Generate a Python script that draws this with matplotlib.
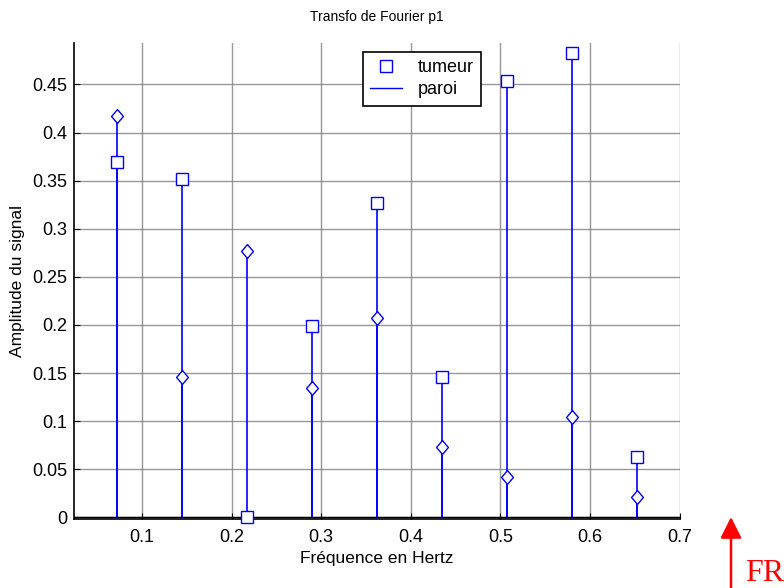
import matplotlib
matplotlib.use("Agg")
import matplotlib.pyplot as plt
from matplotlib.lines import Line2D

# frequences (Hz) et amplitudes
freqs = [0.0725, 0.145, 0.2175, 0.29, 0.3625, 0.435, 0.5075, 0.58, 0.6525]
tumeur = [0.369, 0.352, 0.0, 0.199, 0.327, 0.146, 0.454, 0.483, 0.063]
paroi = [0.417, 0.146, 0.277, 0.134, 0.2075, 0.073, 0.0425, 0.104, 0.021]

xticks = [0.1, 0.2, 0.3, 0.4, 0.5, 0.6, 0.7]
yticks = [0, 0.05, 0.1, 0.15, 0.2, 0.25, 0.3, 0.35, 0.4, 0.45]

# losange un peu plus haut que large (style matlab)
diamond = [(0, 1), (0.85, 0), (0, -1), (-0.85, 0), (0, 1)]


def main():
    plt.rcParams["font.family"] = ["Liberation Sans", "DejaVu Sans"]

    fig = plt.figure(figsize=(7.84, 5.88), dpi=100)
    ax = fig.add_axes([0.0948, 0.1173, 0.772, 0.81])

    blue = (0, 0, 1)
    # tiges
    ax.vlines(freqs, 0, tumeur, color=blue, lw=1.2, zorder=3)
    ax.vlines(freqs, 0, paroi, color=blue, lw=1.2, zorder=3)
    ax.plot(freqs, tumeur, ls="none", marker="s", ms=8.5, mfc="white",
            mec=blue, mew=1.0, zorder=4, clip_on=False)
    ax.plot(freqs, paroi, ls="none", marker=diamond, ms=10, mfc="white",
            mec=blue, mew=1.0, zorder=4)
    ax.axhline(0, color="black", lw=1.0, zorder=2)

    ax.set_xlim(0.0244, 0.7)
    ax.set_ylim(-0.0017, 0.4934)
    ax.set_xticks(xticks)
    ax.set_xticklabels([f"{t:g}" for t in xticks])
    ax.set_yticks(yticks)
    ax.set_yticklabels([f"{t:g}" for t in yticks])

    ax.grid(True, color="#7f7f7f", lw=1.0, alpha=0.8)
    ax.set_axisbelow(True)
    for s in ["top", "right"]:
        ax.spines[s].set_visible(False)
    for s in ["left", "bottom"]:
        ax.spines[s].set_linewidth(1.2)
    ax.tick_params(direction="in", length=4, labelsize=13)
    ax.tick_params(axis="x", pad=7)
    ax.tick_params(axis="y", pad=5)

    ax.set_title("Transfo de Fourier p1", fontsize=10, pad=16)
    ax.set_xlabel("Fréquence en Hertz", fontsize=12.5, labelpad=4)
    ax.set_ylabel("Amplitude du signal", fontsize=12.5, labelpad=5)

    handles = [
        Line2D([], [], ls="none", marker="s", ms=8.5, mfc="white", mec=blue),
        Line2D([], [], color=blue, lw=1.0),
    ]
    leg = ax.legend(handles, ["tumeur", "paroi"], loc="upper left",
                    bbox_to_anchor=(0.477, 0.981), fontsize=13,
                    fancybox=False, framealpha=1, edgecolor="black",
                    borderpad=0.4, labelspacing=0.3, handlelength=1.75,
                    handletextpad=0.9, borderaxespad=0)
    leg.get_frame().set_linewidth(1.2)

    # fleche rouge + FR
    ax.annotate("", xy=(731, 71), xytext=(731, -2), xycoords="figure pixels",
                textcoords="figure pixels",
                arrowprops=dict(arrowstyle="-|>,head_width=0.4,head_length=0.8",
                                color="red", lw=1.8, mutation_scale=16,
                                shrinkA=0, shrinkB=0),
                annotation_clip=False)
    fig.text(745 / 784, 1 - 581 / 588, "FR", color="red", fontsize=23,
             family="Liberation Serif", ha="left", va="baseline")

    fig.savefig("out.png", dpi=100)


if __name__ == "__main__":
    main()
